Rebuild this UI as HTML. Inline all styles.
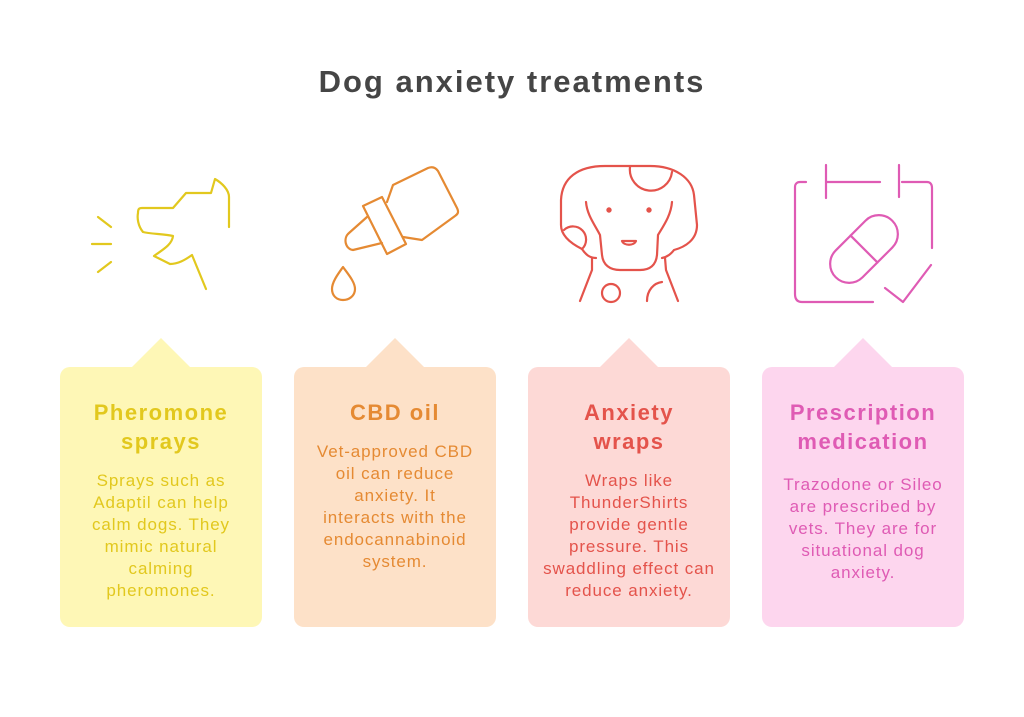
<!DOCTYPE html>
<html><head><meta charset="utf-8"><style>
body{margin:0;width:1024px;height:717px;background:#fff;position:relative;overflow:hidden;font-family:"Liberation Sans",sans-serif}
.t{position:absolute;left:0;width:1024px;top:64px;text-align:center;font-size:31px;font-weight:bold;color:#454545;letter-spacing:2px}
.card{position:absolute;top:367px;width:202px;height:260px;border-radius:10px}
.tri{position:absolute;top:338px;width:0;height:0;border-left:30px solid transparent;border-right:30px solid transparent;border-bottom:30px solid}
.h{position:absolute;left:0;width:202px;text-align:center;font-size:22px;font-weight:bold;line-height:29px;white-space:nowrap;letter-spacing:1.5px}
.b{position:absolute;left:0;width:202px;text-align:center;font-size:17px;line-height:22px;white-space:nowrap;letter-spacing:0.9px}
svg{position:absolute;left:0;top:0}
</style></head><body>
<div class="t">Dog anxiety treatments</div>

<div class="tri" style="left:131px;border-bottom-color:#fef7b6"></div>
<div class="tri" style="left:365px;border-bottom-color:#fde1c8"></div>
<div class="tri" style="left:599px;border-bottom-color:#fdd9d6"></div>
<div class="tri" style="left:833px;border-bottom-color:#fdd6ee"></div>

<div class="card" style="left:60px;background:#fef7b6;color:#e2c81e">
<div class="h" style="top:31px">Pheromone<br>sprays</div>
<div class="b" style="top:103px">Sprays such as<br>Adaptil can help<br>calm dogs. They<br>mimic natural<br>calming<br>pheromones.</div></div>
<div class="card" style="left:294px;background:#fde1c8;color:#e58a33">
<div class="h" style="top:31px">CBD oil</div>
<div class="b" style="top:74px">Vet-approved CBD<br>oil can reduce<br>anxiety. It<br>interacts with the<br>endocannabinoid<br>system.</div></div>
<div class="card" style="left:528px;background:#fdd9d6;color:#e4534b">
<div class="h" style="top:31px">Anxiety<br>wraps</div>
<div class="b" style="top:103px">Wraps like<br>ThunderShirts<br>provide gentle<br>pressure. This<br>swaddling effect can<br>reduce anxiety.</div></div>
<div class="card" style="left:762px;background:#fdd6ee;color:#df5bb4">
<div class="h" style="top:31px">Prescription<br>medication</div>
<div class="b" style="top:107px">Trazodone or Sileo<br>are prescribed by<br>vets. They are for<br>situational dog<br>anxiety.</div></div>

<svg width="1024" height="717" fill="none" stroke-width="2.2" stroke-linecap="round" stroke-linejoin="round">
<g stroke="#e2c81e">
<path d="M206,289 L192,255 C185,260 178,264 170,264 L154,256 C162,250 172,245 173,236 C165,234 150,234 143,232 C138,226 137,218 138,213 C138,209 139,208 142,208 L173,208 L186,193 L211,193 L215,179 C222,183 229,190 229,197 L229,227"/>
<path d="M98,217 L111,227 M92,244 L111,244 M98,272 L111,262"/>
</g>
<g stroke="#e58a33">
<path d="M387,202 L393,185 L428,168 C433,166 436,168 438,171 L457,208 C459,212 458,214 455,216 L422,240 L403,237"/>
<path d="M363,206 L382,197 L406,244 L387,254 Z"/>
<path d="M367,217 L349,233 C343,238 345,249 353,250 L382,243"/>
<path d="M343,267 C338,274 332,282 332,289 C332,296 337,300 343,300 C349,300 355,296 355,289 C355,282 348,274 343,267 Z"/>
</g>
<g stroke="#e4534b">
<path d="M582,249 C572,244 561,236 561,225 L561,200 C562,178 578,166 605,166 L650,166 C675,166 692,178 694,195 L697,225 C697,240 685,247 674,250 C671,254 667,257 662,258"/>
<path d="M630,167 A21,21 0 0 0 672,172"/>
<path d="M564,230 A13,13 0 1 1 582,249 C586,255 590,258 596,258"/>
<path d="M586,202 C587,215 595,225 600,235 L602,255 C603,265 610,270 620,270 L640,270 C650,270 656,265 657,255 L658,235 C664,225 671,215 672,202"/>
<circle cx="609" cy="210" r="1.6" fill="#e4534b"/><circle cx="649" cy="210" r="1.6" fill="#e4534b"/>
<path d="M622,241 L636,241 C634,246 624,246 622,241 Z"/>
<path d="M592,258 L592,270 L580,301 M665,258 L666,270 L678,301"/>
<circle cx="611" cy="293" r="9"/>
<path d="M647,301 C647,290 654,283 662,282"/>
</g>
<g stroke="#df5bb4">
<path d="M806,182 L800,182 C797,182 795,184 795,187 L795,294 C795,299 797,302 802,302 L873,302"/>
<path d="M902,182 L927,182 C930,182 932,184 932,188 L932,248"/>
<path d="M826,165 L826,198 M826,182 L880,182 M899,165 L899,197"/>
<path d="M885,288 L903,302 L931,265"/>
<g transform="translate(864,249) rotate(-45)"><rect x="-40" y="-19" width="80" height="38" rx="19"/><line x1="0" y1="-19" x2="0" y2="19"/></g>
</g>
</svg>
</body></html>
